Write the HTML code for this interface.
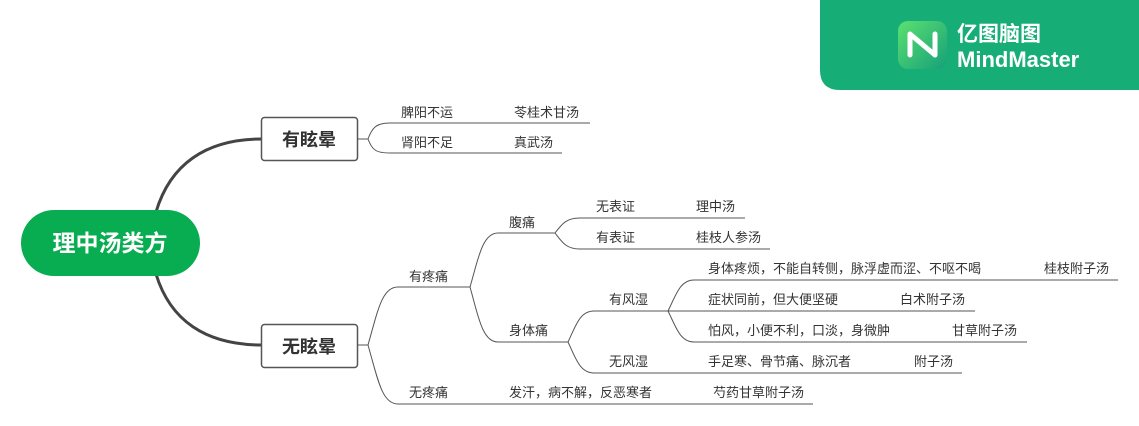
<!DOCTYPE html>
<html><head><meta charset="utf-8">
<style>
html,body{margin:0;padding:0;background:#fff;}
svg{display:block;}
text{font-family:"Liberation Sans","Noto Sans CJK SC",sans-serif;}
</style></head>
<body>
<svg width="1139" height="426" viewBox="0 0 1139 426" xmlns="http://www.w3.org/2000/svg">
<rect width="1139" height="426" fill="#fff"/>
<!-- logo -->
<path d="M820,0 H1139 V90 H840 Q820,90 820,70 Z" fill="#16ae76"/>
<defs><linearGradient id="g" x1="0" y1="0" x2="1" y2="1"><stop offset="0" stop-color="#5ce070"/><stop offset="1" stop-color="#16a07a"/></linearGradient></defs>
<rect x="898" y="21" width="49" height="48" rx="10" fill="url(#g)"/>
<path d="M910,55 V34 L935,55 V34" fill="none" stroke="#fff" stroke-width="5" stroke-linejoin="round" stroke-linecap="round"/>
<text x="957" y="41" font-size="21" fill="#fff" font-weight="bold">亿图脑图</text>
<text x="957" y="67" font-size="22" fill="#fff" font-weight="bold">MindMaster</text>

<!-- thick main curves -->
<g fill="none" stroke="#444" stroke-width="3">
<path d="M156,212 C170,165 205,139 262,139"/>
<path d="M156,274 C170,320 205,345 262,345"/>
</g>
<!-- central -->
<rect x="21" y="210" width="179" height="66" rx="33" fill="#07ad50"/>
<text x="110" y="251" font-size="23" font-weight="bold" fill="#fff" text-anchor="middle">理中汤类方</text>
<!-- branch boxes -->
<rect x="261.5" y="117.5" width="96" height="43" rx="3" fill="#fff" stroke="#555" stroke-width="1.5"/>
<text x="309" y="146" font-size="18" font-weight="bold" fill="#333" text-anchor="middle">有眩晕</text>
<rect x="261.5" y="324.5" width="96" height="43" rx="3" fill="#fff" stroke="#555" stroke-width="1.5"/>
<text x="309" y="353" font-size="18" font-weight="bold" fill="#333" text-anchor="middle">无眩晕</text>

<g fill="none" stroke="#555" stroke-width="1">
<!-- 有眩晕 -->
<path d="M357,139 H368"/>
<path d="M368,139 C372,128 376,123 390,123 H590"/>
<path d="M368,139 C372,150 376,153 390,153 H562"/>
<!-- 无眩晕 -->
<path d="M357,345 H368"/>
<path d="M368,345 C378,310 382,287 398,287 H470"/>
<path d="M368,345 C378,380 382,404 398,404 H813"/>
<!-- 有疼痛 -->
<path d="M470,287 C478,260 482,233 498,233 H555"/>
<path d="M470,287 C478,315 482,342 498,342 H568"/>
<!-- 腹痛 -->
<path d="M555,233 C562,224 566,218 580,218 H745"/>
<path d="M555,233 C562,242 566,249 580,249 H770"/>
<!-- 身体痛 -->
<path d="M568,342 C576,325 580,311 594,311 H668"/>
<path d="M568,342 C576,359 580,373 594,373 H962"/>
<!-- 有风湿 -->
<path d="M668,311 C676,295 680,280 694,280 H1118"/>
<path d="M668,311 H975"/>
<path d="M668,311 C676,327 680,342 694,342 H1027"/>
</g>

<g font-size="13" fill="#333">
<text x="401" y="117">脾阳不运</text>
<text x="514" y="117">苓桂术甘汤</text>
<text x="401" y="147">肾阳不足</text>
<text x="514" y="147">真武汤</text>
<text x="409" y="281">有疼痛</text>
<text x="409" y="397">无疼痛</text>
<text x="509" y="397">发汗，病不解，反恶寒者</text>
<text x="713" y="397">芍药甘草附子汤</text>
<text x="509" y="227">腹痛</text>
<text x="509" y="335">身体痛</text>
<text x="596" y="211">无表证</text>
<text x="696" y="211">理中汤</text>
<text x="596" y="242">有表证</text>
<text x="696" y="242">桂枝人参汤</text>
<text x="609" y="304">有风湿</text>
<text x="609" y="366">无风湿</text>
<text x="708" y="366">手足寒、骨节痛、脉沉者</text>
<text x="914" y="366">附子汤</text>
<text x="708" y="273">身体疼烦，不能自转侧，脉浮虚而涩、不呕不喝</text>
<text x="1044" y="273">桂枝附子汤</text>
<text x="708" y="304">症状同前，但大便坚硬</text>
<text x="900" y="304">白术附子汤</text>
<text x="708" y="335">怕风，小便不利，口淡，身微肿</text>
<text x="952" y="335">甘草附子汤</text>
</g>
</svg>
</body></html>
